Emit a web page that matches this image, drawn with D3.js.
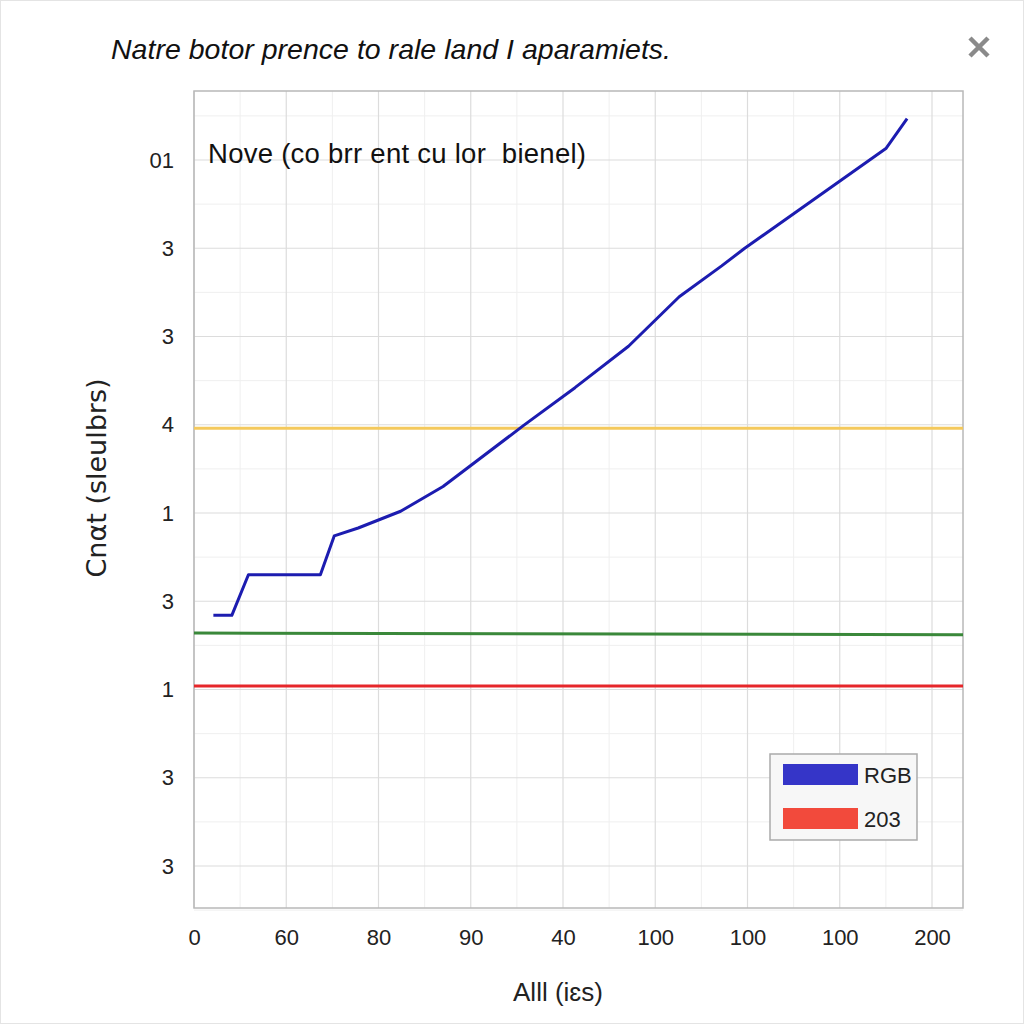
<!DOCTYPE html>
<html><head><meta charset="utf-8">
<script src="https://cdn.jsdelivr.net/npm/d3@7"></script>
<style>body{margin:0;background:#fff}svg{display:block}</style>
</head><body>
<script>
// ---- data ----
const xTickLabels = ["0","60","80","90","40","100","100","100","200"];
const yTickLabels = ["3","3","1","3","1","4","3","3","01"]; // bottom -> top
const blueX = [0.21,0.41,0.59,1.37,1.52,1.78,2.24,2.70,3.57,4.13,4.71,5.26,5.72,5.97,7.50,7.73];
const blueY = [2.84,2.84,3.30,3.30,3.74,3.83,4.02,4.30,4.99,5.42,5.89,6.45,6.80,7.00,8.13,8.47];
const yellowLevel = [4.96, 4.96];
const greenLevel = [2.64, 2.62];
const redLevel = [2.04, 2.04];
const legendLabels = ["RGB","203"];
const legendColors = ["#3535c8","#f24a3c"];
const title = "Natre botor prence to rale land I aparamiets.";
const note = "Nove (co brr ent cu lor  bienel)";
const yTitle = "Cnαt (sleulbrs)";
const xTitle = "Alll (iɛs)";

const W=1024,H=1024;
const L=194,R=963,T=91,B=908;
const svg=d3.select("body").append("svg").attr("width",W).attr("height",H);
svg.append("rect").attr("x",0.5).attr("y",0.5).attr("width",W-1).attr("height",H-1).attr("fill","#fff").attr("stroke","#e4e4e4");

const x=d3.scaleLinear().domain([0,(R-L)/92.25]).range([L,R]);
const y=d3.scaleLinear().domain([-(B-866)/88.25, (866-T)/88.25]).range([B,T]);

const xMaj=d3.range(0,9), yMaj=d3.range(0,9);
const xMin=d3.range(0.5,8.4,1), yMin=d3.range(-0.5,8.8,0.5).filter(v=>v%1!==0);
const g=svg.append("g");
g.selectAll(".xm").data(xMin).join("line").attr("x1",d=>x(d)).attr("x2",d=>x(d)).attr("y1",T).attr("y2",B).attr("stroke","#efefef").attr("stroke-width",1);
g.selectAll(".ym").data(yMin).join("line").attr("y1",d=>y(d)).attr("y2",d=>y(d)).attr("x1",L).attr("x2",R).attr("stroke","#efefef").attr("stroke-width",1);
g.selectAll(".xg").data(xMaj).join("line").attr("x1",d=>x(d)).attr("x2",d=>x(d)).attr("y1",T).attr("y2",B).attr("stroke","#dcdcdc").attr("stroke-width",1.2);
g.selectAll(".yg").data(yMaj).join("line").attr("y1",d=>y(d)).attr("y2",d=>y(d)).attr("x1",L).attr("x2",R).attr("stroke","#dcdcdc").attr("stroke-width",1.2);
svg.append("rect").attr("x",L).attr("y",T).attr("width",R-L).attr("height",B-T).attr("fill","none").attr("stroke","#b8b8b8").attr("stroke-width",1.5);

const xAxis=d3.axisBottom(x).tickValues(xMaj).tickFormat(i=>xTickLabels[i]).tickSize(0).tickPadding(21);
const xa=svg.append("g").attr("transform",`translate(0,${B})`).call(xAxis);
xa.select(".domain").remove();
xa.selectAll("text").attr("font-family","Liberation Sans, Arial, sans-serif").attr("font-size",22).attr("fill","#222");
const yAxis=d3.axisLeft(y).tickValues(yMaj).tickFormat(i=>yTickLabels[i]).tickSize(0).tickPadding(20);
const ya=svg.append("g").attr("transform",`translate(${L},0)`).call(yAxis);
ya.select(".domain").remove();
ya.selectAll("text").attr("font-family","Liberation Sans, Arial, sans-serif").attr("font-size",22).attr("fill","#222");

const hl=(vals,color)=>svg.append("path").datum(vals)
  .attr("d",d3.line().x((d,i)=>i===0?x.range()[0]:x.range()[1]).y(d=>y(d)))
  .attr("fill","none").attr("stroke",color).attr("stroke-width",3);
hl(yellowLevel,"#f4c95c");
hl(greenLevel,"#3a883a");
hl(redLevel,"#e6262a");

svg.append("path").datum(blueX.map((v,i)=>[v,blueY[i]]))
  .attr("d",d3.line().x(d=>x(d[0])).y(d=>y(d[1])))
  .attr("fill","none").attr("stroke","#1c1cb0").attr("stroke-width",3).attr("stroke-linejoin","round");

svg.append("text").attr("x",111).attr("y",59).attr("font-family","Liberation Sans, Arial, sans-serif").attr("font-style","italic").attr("font-size",28.5).attr("textLength",560).attr("fill","#111").text(title);
svg.append("text").attr("x",208).attr("y",163).attr("font-family","Liberation Sans, Arial, sans-serif").attr("font-size",27.5).attr("fill","#111").style("white-space","pre").attr("textLength",378).text(note);
svg.append("text").attr("transform","translate(106,478) rotate(-90)").attr("text-anchor","middle").attr("font-family","DejaVu Sans, sans-serif").attr("font-size",27).attr("fill","#222").text(yTitle);
svg.append("text").attr("x",558).attr("y",1001).attr("text-anchor","middle").attr("font-family","Liberation Sans, Arial, sans-serif").attr("font-size",26).attr("fill","#222").text(xTitle);

const cx=979,cy=47,s=9;
svg.append("path").attr("d",`M${cx-s},${cy-s}L${cx+s},${cy+s}M${cx+s},${cy-s}L${cx-s},${cy+s}`).attr("stroke","#8a8a8a").attr("stroke-width",4.5);

const lg=svg.append("g");
lg.append("rect").attr("x",770).attr("y",754).attr("width",147).attr("height",86).attr("fill","#f7f7f7").attr("stroke","#aaa").attr("stroke-width",1.5);
legendLabels.forEach((lab,i)=>{
  lg.append("rect").attr("x",783).attr("y",764+i*44).attr("width",75).attr("height",21).attr("fill",legendColors[i]);
  lg.append("text").attr("x",864).attr("y",783+i*44).attr("font-family","Liberation Sans, Arial, sans-serif").attr("font-size",22).attr("fill","#222").text(lab);
});
</script>
</body></html>
